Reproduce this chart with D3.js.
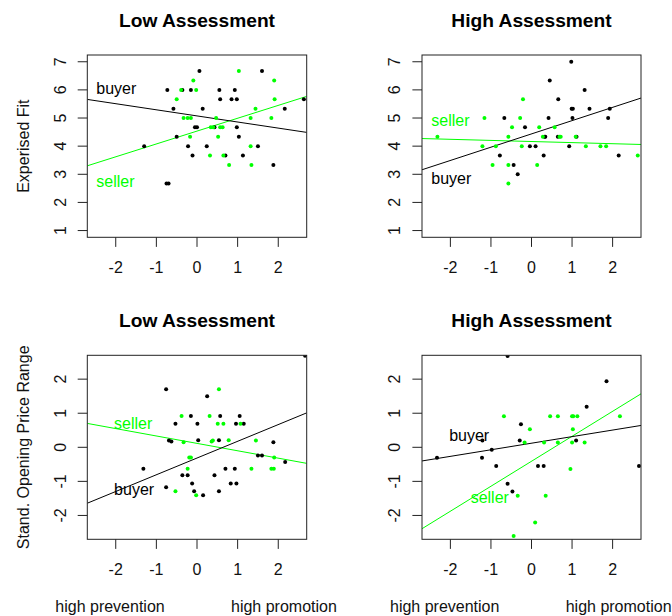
<!DOCTYPE html>
<html>
<head>
<meta charset="utf-8">
<script src="https://cdn.jsdelivr.net/npm/d3@7"></script>
<style>
  body { margin: 0; background: #fff; }
  svg { display: block; font-family: "Liberation Sans", Arial, sans-serif; }
  .tick-label, .axis-name, .foot { font-size: 16px; fill: #111; }
  .title { font-size: 19.2px; font-weight: bold; fill: #000; }
</style>
</head>
<body>
<svg id="graph" width="672" height="616"></svg>
<script>
// scores, [x, y]
let lowFitBuyer = [[0.06,6.67],[1.60,6.67],[-0.73,6],[-0.36,6],[-0.15,6],[0.55,6],[0.93,6],[0.57,5.67],[0.85,5.67],[0.98,5.67],[2.63,5.67],
  [-0.58,5.33],[0.14,5.33],[2.16,5.33],[-0.05,4.67],[0.0,4.67],[0.43,4.67],[0.98,4.67],[-0.5,4.33],[1.03,4.33],[-1.30,4],[-0.22,4],
  [0.24,4],[1.50,4],[-0.11,3.67],[0.70,3.67],[1.13,3.67],[1.88,3.33],[-0.75,2.67],[-0.70,2.67]];
let lowFitSeller = [[1.03,6.67],[-0.09,6.33],[1.90,6.33],[-0.39,6],[-0.02,6],[-0.5,5.67],[1.91,5.67],[1.44,5.33],[-0.33,5],[-0.23,5],
  [-0.15,5],[0.47,5],[1.32,5],[1.83,5],[0.34,4.67],[0.40,4.67],[0.57,4.67],[0.63,4.67],[-0.17,4.33],[0.52,4.33],[1.32,4],[0.32,3.67],
  [0.65,3.67],[0.79,3.33],[1.34,3.33]];
let highFitBuyer = [[0.98,7],[0.45,6.33],[1.31,6],[0.66,5.67],[0.99,5.33],[1.02,5.33],[1.43,5.33],[1.93,5.33],[-0.67,5],[0.42,5],[1.01,5],
  [1.89,5],[-0.16,4.67],[0.32,4.33],[0.34,4.33],[0.65,4.33],[1.11,4.33],[-0.04,4],[0.10,4],[0.93,4],[-0.78,3.67],[0.30,3.67],[2.15,3.67],
  [-0.44,3.33],[-0.34,3]];
let highFitSeller = [[-0.21,5.67],[-1.16,5],[-0.28,5],[-0.48,4.67],[0.19,4.67],[0.57,4.67],[-2.32,4.33],[-0.57,4.33],[0.28,4.33],[0.69,4.33],
  [0.72,4.33],[1.09,4.33],[-1.21,4],[-0.88,4],[-0.24,4],[1.34,4],[1.70,4],[1.84,4],[2.62,3.67],[-0.96,3.33],[-0.57,3.33],[0.14,3.33],[-0.57,2.67]];
let lowPriceBuyer = [[-0.76,1.70],[0.25,1.50],[-0.15,0.92],[0.57,0.92],[1.05,0.92],[-0.53,0.69],[0.01,0.69],[0.96,0.69],[1.15,0.69],
  [-0.69,0.20],[-0.63,0.17],[0.03,0.21],[0.54,0.21],[1.88,0.15],[1.50,-0.24],[1.60,-0.24],[2.17,-0.43],[-1.32,-0.63],[0.70,-0.63],
  [0.93,-0.63],[-0.36,-0.82],[-0.23,-0.82],[0.43,-0.82],[-0.12,-1.06],[0.83,-1.06],[0.97,-1.06],[-0.76,-1.17],[-0.07,-1.29],[0.15,-1.41],
  [0.54,-1.29],[2.66,2.69]];
let lowPriceSeller = [[0.54,1.70],[-0.38,0.92],[0.31,0.92],[0.51,0.69],[0.65,0.69],[1.07,0.69],[-0.33,0.15],[0.36,0.17],[0.39,0.20],
  [0.78,0.21],[1.45,0.20],[-0.19,-0.30],[-0.15,-0.30],[1.90,-0.30],[-0.23,-0.63],[1.34,-0.63],[1.83,-0.63],[1.89,-0.63],[-0.53,-1.29],[-0.02,-1.41]];
let highPriceBuyer = [[-0.59,2.68],[1.85,1.94],[1.36,1.19],[-0.26,0.68],[-1.21,0.20],[-0.29,0.20],[1.10,0.20],[-0.98,-0.07],[-2.33,-0.31],
  [-1.22,-0.31],[-0.87,-0.55],[0.16,-0.55],[0.30,-0.55],[2.65,-0.55],[-0.59,-1.07],[-0.47,-1.30]];
let highPriceSeller = [[-0.68,0.91],[0.46,0.91],[0.65,0.91],[1.00,0.91],[1.03,0.91],[1.13,0.91],[2.18,0.91],[-0.04,0.53],[1.02,0.53],
  [-0.17,0.14],[0.31,0.14],[0.65,0.14],[1.00,0.14],[1.31,0.14],[0.96,-0.64],[-0.34,-1.42],[0.35,-1.42],[0.09,-2.21],[-0.44,-2.60]];

// fitted lines, [intercept, slope]
let lowFitLines = {buyer: [5.075, -0.217], seller: [4.535, 0.457]};
let highFitLines = {buyer: [4.435, 0.472], seller: [4.165, -0.039]};
let lowPriceLines = {buyer: [-0.315, 0.491], seller: [0.115, -0.217]};
let highPriceLines = {buyer: [0.12, 0.193], seller: [-0.41, 0.733]};

// where the group names sit, data coords of the text baseline start
let lowFitTags = {buyer: [-2.48, 5.86], seller: [-2.48, 2.55]};
let highFitTags = {buyer: [-2.47, 2.65], seller: [-2.47, 4.72]};
let lowPriceTags = {buyer: [-2.04, -1.39], seller: [-2.04, 0.54]};
let highPriceTags = {buyer: [-2.03, 0.19], seller: [-1.5, -1.63]};

let xTicks = [-2, -1, 0, 1, 2];
let fitTicks = [1, 2, 3, 4, 5, 6, 7];
let priceTicks = [-2, -1, 0, 1, 2];
let xLim = [-2.5, 2.5];
let fitLim = [1, 7];
let priceLim = [-2.5, 2.5];
let titles = ["Low Assessment", "High Assessment"];
let yNames = ["Experised Fit", "Stand. Opening Price Range"];
let footNames = ["high prevention", "high promotion"];

let colors = {buyer: "#000000", seller: "#00ff00"};

let layout = {
  cols: [{x0: 87.3, x1: 306.7}, {x0: 422, x1: 641}],
  rows: [{y0: 55, y1: 237.3}, {y0: 355.3, y1: 539.3}],
  tick: 9.6,
  dot: 2
};

let panels = [
  {row: 0, col: 0, title: titles[0], lim: fitLim, ticks: fitTicks, buyer: lowFitBuyer, seller: lowFitSeller, lines: lowFitLines, tags: lowFitTags},
  {row: 0, col: 1, title: titles[1], lim: fitLim, ticks: fitTicks, buyer: highFitBuyer, seller: highFitSeller, lines: highFitLines, tags: highFitTags},
  {row: 1, col: 0, title: titles[0], lim: priceLim, ticks: priceTicks, buyer: lowPriceBuyer, seller: lowPriceSeller, lines: lowPriceLines, tags: lowPriceTags},
  {row: 1, col: 1, title: titles[1], lim: priceLim, ticks: priceTicks, buyer: highPriceBuyer, seller: highPriceSeller, lines: highPriceLines, tags: highPriceTags}
];

// R style 4% padding round the limits
let pad = function(lim) {
  let d = (lim[1] - lim[0]) * 0.04;
  return [lim[0] - d, lim[1] + d];
};

let svg = d3.select("#graph");

panels.forEach(function(p, i) {
  let c = layout.cols[p.col], r = layout.rows[p.row];
  let x = d3.scaleLinear().domain(pad(xLim)).range([c.x0, c.x1]);
  let y = d3.scaleLinear().domain(pad(p.lim)).range([r.y1, r.y0]);
  let g = svg.append("g");

  g.append("clipPath").attr("id", "clip" + i)
    .append("rect").attr("x", c.x0).attr("y", r.y0).attr("width", c.x1 - c.x0).attr("height", r.y1 - r.y0);

  //title
  g.append("text").attr("class", "title")
    .attr("x", (c.x0 + c.x1) / 2).attr("y", r.y0 - 28.3)
    .attr("text-anchor", "middle").text(p.title);

  //axis x
  g.selectAll(".xt").data(xTicks).enter().append("line")
    .attr("x1", d => x(d)).attr("x2", d => x(d))
    .attr("y1", r.y1).attr("y2", r.y1 + layout.tick)
    .attr("stroke", "#222").attr("stroke-width", 1);
  g.selectAll(".xl").data(xTicks).enter().append("text")
    .attr("class", "tick-label")
    .attr("x", d => x(d)).attr("y", r.y1 + 30 + 5.7)
    .attr("text-anchor", "middle").text(d => d);

  //axis y
  g.selectAll(".yt").data(p.ticks).enter().append("line")
    .attr("x1", c.x0 - layout.tick).attr("x2", c.x0)
    .attr("y1", d => y(d)).attr("y2", d => y(d))
    .attr("stroke", "#222").attr("stroke-width", 1);
  g.selectAll(".yl").data(p.ticks).enter().append("text")
    .attr("class", "tick-label")
    .attr("transform", d => "translate(" + (c.x0 - 21.6) + "," + y(d) + ") rotate(-90)")
    .attr("text-anchor", "middle").text(d => d);

  //fitted lines
  let plot = g.append("g").attr("clip-path", "url(#clip" + i + ")");
  ["seller", "buyer"].forEach(function(k) {
    let ab = p.lines[k], xs = x.domain();
    plot.append("line")
      .attr("x1", x(xs[0])).attr("y1", y(ab[0] + ab[1] * xs[0]))
      .attr("x2", x(xs[1])).attr("y2", y(ab[0] + ab[1] * xs[1]))
      .attr("stroke", colors[k]).attr("stroke-width", 1);
  });

  //dots
  ["buyer", "seller"].forEach(function(k) {
    plot.selectAll(".dot-" + k).data(p[k]).enter().append("circle")
      .attr("cx", d => x(d[0])).attr("cy", d => y(d[1]))
      .attr("r", layout.dot).attr("fill", colors[k]);
  });

  //group names
  ["buyer", "seller"].forEach(function(k) {
    g.append("text").attr("class", "axis-name")
      .attr("x", x(p.tags[k][0])).attr("y", y(p.tags[k][1]))
      .style("fill", colors[k]).text(k);
  });

  //box
  g.append("rect").attr("x", c.x0).attr("y", r.y0)
    .attr("width", c.x1 - c.x0).attr("height", r.y1 - r.y0)
    .attr("fill", "none").attr("stroke", "#222").attr("stroke-width", 1);

  if (p.col == 0) {
    g.append("text").attr("class", "axis-name")
      .attr("transform", "translate(28.8," + ((r.y0 + r.y1) / 2) + ") rotate(-90)")
      .attr("text-anchor", "middle").text(yNames[p.row]);
  }
  if (p.row == 1) {
    g.append("text").attr("class", "foot").attr("x", c.x0 - 32).attr("y", 612).text(footNames[0]);
    g.append("text").attr("class", "foot").attr("x", c.x0 + 143.7).attr("y", 612).text(footNames[1]);
  }
});
</script>
</body>
</html>
